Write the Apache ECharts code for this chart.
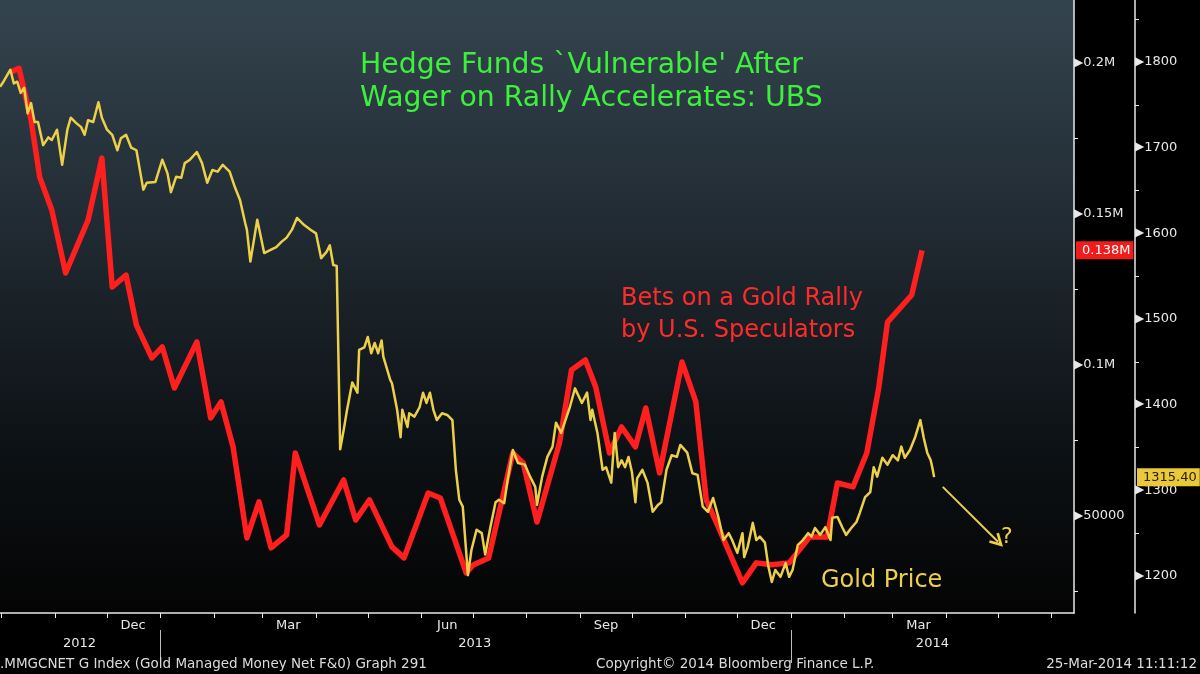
<!DOCTYPE html>
<html>
<head>
<meta charset="utf-8">
<title>Hedge Funds Vulnerable</title>
<script src="https://cdn.jsdelivr.net/npm/echarts@6/dist/echarts.min.js"></script>
<style>
html, body { margin: 0; padding: 0; background: #000; }
#chart { width: 1200px; height: 674px; }
</style>
</head>
<body>
<div id="chart"></div>
<script>
'use strict';

// weekly managed money net (contracts)
const redDates = [
    '2012-10-06', '2012-10-11', '2012-10-18', '2012-10-23', '2012-10-30', '2012-11-07', '2012-11-20', '2012-11-28',
    '2012-12-04', '2012-12-12', '2012-12-18', '2012-12-27', '2013-01-02', '2013-01-09', '2013-01-22', '2013-01-30',
    '2013-02-05', '2013-02-12', '2013-02-20', '2013-02-27', '2013-03-06', '2013-03-15', '2013-03-20', '2013-04-03',
    '2013-04-17', '2013-04-24', '2013-05-02', '2013-05-15', '2013-05-22', '2013-06-05', '2013-06-12', '2013-06-27',
    '2013-07-01', '2013-07-10', '2013-07-24', '2013-07-30', '2013-08-07', '2013-08-20', '2013-08-27', '2013-09-04',
    '2013-09-10', '2013-09-18', '2013-09-25', '2013-10-03', '2013-10-09', '2013-10-17', '2013-10-30', '2013-11-07',
    '2013-11-13', '2013-11-20', '2013-12-04', '2013-12-12', '2013-12-21', '2013-12-31', '2014-01-12', '2014-01-22',
    '2014-01-28', '2014-02-06', '2014-02-14', '2014-02-21', '2014-02-26', '2014-03-12', '2014-03-18'
];
const redValues = [
    197000, 198300, 181100, 162250, 151350, 130500, 148000, 168550,
    125850, 129800, 113250, 102350, 106000, 92400, 107650, 82500,
    87800, 72900, 42750, 54700, 39450, 43750, 70900, 47050,
    61950, 48700, 55350, 39800, 36150, 57650, 56000, 31200,
    33800, 36150, 70900, 67600, 48050, 74200, 98350, 101700,
    92750, 70900, 79500, 72900, 85800, 64300, 101000, 87800,
    55350, 46400, 27900, 34500, 33850, 34500, 43100, 43100,
    60950, 59650, 70900, 92750, 114250, 123200, 138000
];

// gold price, one line per month
const goldDates = [
    '2012-09-30', '2012-10-02', '2012-10-06', '2012-10-08', '2012-10-10', '2012-10-12', '2012-10-14', '2012-10-16', '2012-10-18', '2012-10-20', '2012-10-22', '2012-10-25', '2012-10-28', '2012-10-30',
    '2012-11-02', '2012-11-05', '2012-11-08', '2012-11-10', '2012-11-13', '2012-11-16', '2012-11-18', '2012-11-20', '2012-11-23', '2012-11-26', '2012-11-28',
    '2012-12-01', '2012-12-04', '2012-12-07', '2012-12-09', '2012-12-12', '2012-12-15', '2012-12-18', '2012-12-22', '2012-12-24', '2012-12-29', '2012-12-30',
    '2013-01-02', '2013-01-05', '2013-01-07', '2013-01-10', '2013-01-13', '2013-01-15', '2013-01-18', '2013-01-22', '2013-01-25', '2013-01-28', '2013-01-31',
    '2013-02-03', '2013-02-06', '2013-02-10', '2013-02-13', '2013-02-16', '2013-02-19', '2013-02-20', '2013-02-22', '2013-02-26',
    '2013-03-02', '2013-03-06', '2013-03-09', '2013-03-12', '2013-03-15', '2013-03-18', '2013-03-21', '2013-03-25', '2013-03-29',
    '2013-04-01', '2013-04-04', '2013-04-07', '2013-04-09', '2013-04-11', '2013-04-13', '2013-04-15', '2013-04-17', '2013-04-19', '2013-04-22', '2013-04-25', '2013-04-26', '2013-04-29',
    '2013-05-01', '2013-05-03', '2013-05-05', '2013-05-07', '2013-05-09', '2013-05-10', '2013-05-14', '2013-05-15', '2013-05-18', '2013-05-20', '2013-05-21', '2013-05-24', '2013-05-25', '2013-05-28', '2013-05-31',
    '2013-06-02', '2013-06-04', '2013-06-06', '2013-06-08', '2013-06-10', '2013-06-13', '2013-06-16', '2013-06-19', '2013-06-21', '2013-06-23', '2013-06-25', '2013-06-28', '2013-06-30',
    '2013-07-03', '2013-07-06', '2013-07-08', '2013-07-11', '2013-07-14', '2013-07-16', '2013-07-19', '2013-07-21', '2013-07-24', '2013-07-27', '2013-07-31',
    '2013-08-03', '2013-08-06', '2013-08-07', '2013-08-10', '2013-08-13', '2013-08-16', '2013-08-18', '2013-08-21', '2013-08-26', '2013-08-29',
    '2013-09-02', '2013-09-05', '2013-09-07', '2013-09-08', '2013-09-11', '2013-09-14', '2013-09-16', '2013-09-19', '2013-09-21', '2013-09-23', '2013-09-25', '2013-09-27', '2013-09-29',
    '2013-10-01', '2013-10-03', '2013-10-04', '2013-10-07', '2013-10-10', '2013-10-13', '2013-10-16', '2013-10-18', '2013-10-21', '2013-10-24', '2013-10-27', '2013-10-29',
    '2013-11-02', '2013-11-05', '2013-11-08', '2013-11-11', '2013-11-14', '2013-11-17', '2013-11-20', '2013-11-23', '2013-11-26', '2013-11-28',
    '2013-12-01', '2013-12-04', '2013-12-05', '2013-12-07', '2013-12-10', '2013-12-12', '2013-12-14', '2013-12-17', '2013-12-19', '2013-12-21', '2013-12-23', '2013-12-26', '2013-12-29', '2013-12-31',
    '2014-01-02', '2014-01-05', '2014-01-08', '2014-01-11', '2014-01-13', '2014-01-15', '2014-01-18', '2014-01-21', '2014-01-24', '2014-01-25', '2014-01-28', '2014-01-31',
    '2014-02-02', '2014-02-05', '2014-02-08', '2014-02-10', '2014-02-13', '2014-02-16', '2014-02-18', '2014-02-20', '2014-02-23', '2014-02-26',
    '2014-03-01', '2014-03-04', '2014-03-06', '2014-03-08', '2014-03-11', '2014-03-14', '2014-03-17', '2014-03-19', '2014-03-21', '2014-03-23', '2014-03-24', '2014-03-25'
];
const goldValues = [
    1771, 1777, 1791, 1775, 1777, 1764, 1770, 1740, 1752, 1730, 1730, 1703, 1712, 1709,
    1721, 1680, 1721, 1735, 1729, 1724, 1715, 1732, 1730, 1753, 1735,
    1721, 1715, 1697, 1711, 1715, 1700, 1697, 1651, 1659, 1660, 1659,
    1686, 1670, 1648, 1666, 1665, 1682, 1686, 1695, 1682, 1659, 1674,
    1672, 1680, 1672, 1654, 1639, 1612, 1604, 1567, 1616,
    1577, 1581, 1584, 1590, 1595, 1604, 1618, 1610, 1604,
    1600, 1571, 1578, 1586, 1563, 1562, 1348, 1370, 1394, 1426, 1414, 1464, 1467,
    1479, 1460, 1472, 1460, 1475, 1456, 1429, 1425, 1394, 1362, 1394, 1374, 1390, 1386, 1397,
    1414, 1402, 1414, 1394, 1382, 1390, 1388, 1382, 1324, 1289, 1281, 1201, 1230,
    1254, 1250, 1225, 1257, 1286, 1289, 1285, 1312, 1347, 1332, 1330,
    1316, 1304, 1283, 1316, 1339, 1351, 1379, 1367, 1397, 1419,
    1402, 1414, 1382, 1394, 1367, 1324, 1327, 1309, 1367, 1327, 1335, 1327, 1339,
    1321, 1286, 1314, 1324, 1309, 1275, 1283, 1286, 1324, 1341, 1339, 1353,
    1344, 1320, 1318, 1281, 1275, 1291, 1269, 1242, 1250, 1242,
    1227, 1250, 1222, 1234, 1262, 1242, 1246, 1239, 1211, 1193, 1207, 1199, 1215, 1199,
    1207, 1236, 1242, 1250, 1246, 1256, 1248, 1257, 1242, 1268, 1269, 1256,
    1248, 1256, 1263, 1274, 1292, 1298, 1327, 1316, 1338, 1330,
    1341, 1335, 1351, 1338, 1347, 1362, 1382, 1361, 1344, 1335, 1326, 1315.4
];

// x axis: month ticks, quarter labels (mid month), year labels
const monthStarts = [
    '2012-10-01', '2012-11-01', '2012-12-01', '2013-01-01', '2013-02-01', '2013-03-01', '2013-04-01',
    '2013-05-01', '2013-06-01', '2013-07-01', '2013-08-01', '2013-09-01', '2013-10-01', '2013-11-01',
    '2013-12-01', '2014-01-01', '2014-02-01', '2014-03-01', '2014-04-01', '2014-05-01', '2014-06-01'
];
const quarterDates = ['2012-12-16', '2013-03-16', '2013-06-16', '2013-09-16', '2013-12-16', '2014-03-16'];
const quarterLabels = ['Dec', 'Mar', 'Jun', 'Sep', 'Dec', 'Mar'];
const yearBreaks = ['2013-01-01', '2014-01-01'];
const yearDates = ['2012-11-15', '2013-07-02', '2014-03-24'];
const yearLabels = ['2012', '2013', '2014'];
const dateRange = ['2012-09-30', '2014-06-14'];

// y axes
const netTicks = [50000, 100000, 150000, 200000];
const netLabels = ['50000', '0.1M', '0.15M', '0.2M'];
const netMinor = [25000, 75000, 125000, 175000];
const priceTicks = [1200, 1300, 1400, 1500, 1600, 1700, 1800];
const priceMinor = [1250, 1350, 1450, 1550, 1650, 1750, 1850];
const lastNet = 138000;
const lastPrice = 1315.40;
const arrowFrom = ['2014-03-30', 1304];
const arrowTo = ['2014-05-01', 1240];

const FONT = '"DejaVu Sans", sans-serif';
const RED = '#ff1f1f';
const GOLD = '#ecd04a';
const AXIS = '#e8e8e8';
const FOOT = '#dcdcdc';

function ts(s) {
    var p = s.split('-').map(Number);
    return Date.UTC(p[0], p[1] - 1, p[2]);
}

function zip(dates, values) {
    if (dates.length != values.length) {
        console.error('length mismatch', dates.length, values.length);
    }
    return dates.map((d, i) => [ts(d), values[i]]);
}

function note(text, pos, color, size, lineHeight) {
    var t = Object.assign({text: text, padding: 0}, pos);
    t.textStyle = {color: color, fontSize: size, fontWeight: 'normal', fontFamily: FONT};
    if (lineHeight) {
        t.textStyle.lineHeight = lineHeight;
    }
    return t;
}

class GoldBetsChart {
    constructor(cont) {
        this.container = cont;
        this.chart = echarts.init(cont, null, {renderer: 'canvas'});
    }

    yLabel(ticks, labels) {
        return {
            customValues: ticks,
            margin: 0,
            formatter: v => '{t|\u25B6}' + labels[ticks.indexOf(v)],
            color: AXIS, fontFamily: FONT, fontSize: 13,
            rich: {t: {fontSize: 12, color: AXIS, padding: [0, 0, 1, 0]}}
        };
    }

    // date axis drawn on a numeric scale of timestamps
    dateAxis(extra) {
        var ax = {
            type: 'value', min: ts(dateRange[0]), max: ts(dateRange[1]),
            splitLine: {show: false}
        };
        return Object.assign(ax, extra);
    }

    tag(value, text, bg, fg, distance) {
        return {
            yAxis: value, symbol: 'none',
            lineStyle: {color: 'rgba(0,0,0,0)', width: 0, opacity: 0},
            label: {
                show: true, opacity: 1, position: 'end', distance: distance, formatter: text,
                backgroundColor: bg, color: fg, fontFamily: FONT, fontSize: 13,
                padding: [3, 3, 2, 6]
            }
        };
    }

    show() {
        var monthTs = monthStarts.map(ts);
        var quarterTs = quarterDates.map(ts);
        var yearTs = yearDates.map(ts);
        var option = {
            backgroundColor: '#000',
            animation: false,
            textStyle: {fontFamily: FONT},
            title: [
                note('Hedge Funds `Vulnerable\' After\nWager on Rally Accelerates: UBS', {left: 360, top: 49}, '#3cf03c', 28.3, 33),
                note('Bets on a Gold Rally\nby U.S. Speculators', {left: 621, top: 283}, '#ff2b2b', 24, 32),
                note('Gold Price', {left: 821, top: 569}, GOLD, 24),
                note('?', {left: 1001, top: 526}, GOLD, 22),
                note('.MMGCNET G Index (Gold Managed Money Net F&0) Graph 291', {left: 0, top: 657}, FOOT, 13.5),
                note('Copyright\u00A9 2014 Bloomberg Finance L.P.', {left: 596, top: 657}, FOOT, 13.5),
                note('25-Mar-2014 11:11:12', {right: 3, top: 657}, FOOT, 13.5)
            ],
            grid: {
                left: 0, right: 126, top: 0, bottom: 61,
                show: true, borderWidth: 0,
                backgroundColor: new echarts.graphic.LinearGradient(0, 0, 0, 1, [
                    {offset: 0, color: '#34444e'},
                    {offset: 0.35, color: '#222c34'},
                    {offset: 0.7, color: '#0e1317'},
                    {offset: 1, color: '#040404'}
                ])
            },
            xAxis: [
                this.dateAxis({
                    axisLine: {show: true, lineStyle: {color: AXIS, width: 1.5}},
                    axisTick: {show: true, customValues: monthTs, length: 5, lineStyle: {color: AXIS}},
                    axisLabel: {
                        customValues: quarterTs, margin: 6, color: AXIS, fontSize: 13, fontFamily: FONT,
                        formatter: v => quarterLabels[quarterTs.indexOf(v)]
                    }
                }),
                this.dateAxis({
                    position: 'bottom', offset: 17,
                    axisLine: {show: false},
                    axisTick: {show: true, customValues: yearBreaks.map(ts), length: 33, lineStyle: {color: '#bdbdbd'}},
                    axisLabel: {
                        customValues: yearTs, margin: 7, color: AXIS, fontSize: 13, fontFamily: FONT,
                        formatter: v => yearLabels[yearTs.indexOf(v)]
                    }
                })
            ],
            yAxis: [
                {
                    type: 'value', position: 'right', min: 17900, max: 220900,
                    axisLine: {show: true, lineStyle: {color: AXIS, width: 1.5}},
                    axisTick: {show: true, customValues: netMinor, length: 4, lineStyle: {color: AXIS}},
                    axisLabel: this.yLabel(netTicks, netLabels),
                    splitLine: {show: false}
                },
                {
                    type: 'value', position: 'right', offset: 61, min: 1156.8, max: 1872.4,
                    axisLine: {show: true, lineStyle: {color: AXIS, width: 1.5}},
                    axisTick: {show: true, customValues: priceMinor, length: 4, lineStyle: {color: AXIS}},
                    axisLabel: this.yLabel(priceTicks, priceTicks.map(String)),
                    splitLine: {show: false}
                }
            ],
            series: [
                {
                    name: 'Managed Money Net', type: 'line', xAxisIndex: 0, yAxisIndex: 0,
                    data: zip(redDates, redValues), showSymbol: false, silent: true, clip: false,
                    lineStyle: {color: RED, width: 5.5, join: 'round'},
                    markLine: {
                        silent: true, symbol: 'none',
                        data: [this.tag(lastNet, '0.138M', '#f01c1c', '#ffffff', 2)]
                    }
                },
                {
                    name: 'Gold', type: 'line', xAxisIndex: 0, yAxisIndex: 1,
                    data: zip(goldDates, goldValues), showSymbol: false, silent: true, clip: false,
                    lineStyle: {color: GOLD, width: 2.5, join: 'round'},
                    markLine: {
                        silent: true,
                        symbol: ['none', 'path://M5,0 L10,9 L8.4,10 L5,4 L1.6,10 L0,9 Z'],
                        symbolSize: [14, 14],
                        lineStyle: {color: GOLD, width: 2, type: 'solid'},
                        label: {show: false},
                        data: [
                            [
                                {coord: [ts(arrowFrom[0]), arrowFrom[1]]},
                                {coord: [ts(arrowTo[0]), arrowTo[1]]}
                            ],
                            this.tag(lastPrice, lastPrice.toFixed(2), '#e9c83a', '#2a2200', 63)
                        ]
                    }
                }
            ]
        };
        this.chart.setOption(option);
    }
}

var goldChart = new GoldBetsChart(document.getElementById('chart'));
goldChart.show();
</script>
</body>
</html>
